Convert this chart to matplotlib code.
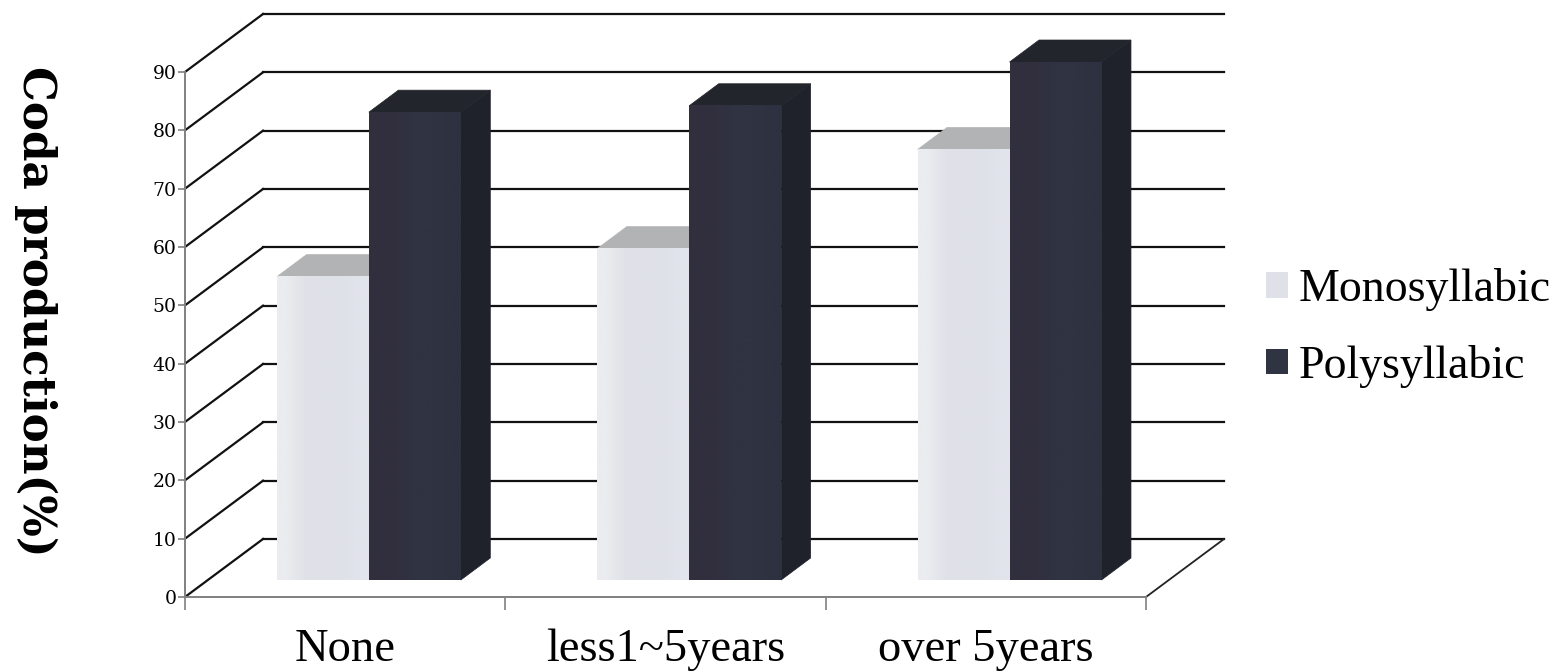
import matplotlib
matplotlib.use("Agg")
import matplotlib.pyplot as plt
import numpy as np
from matplotlib.colors import to_rgb
from matplotlib.patches import Polygon, Patch

categorias = ["None", "less1~5years", "over 5years"]
monosilabico = [52.0, 56.8, 73.8]
polisilabico = [80.2, 81.3, 88.8]
ticks_y = [0, 10, 20, 30, 40, 50, 60, 70, 80, 90]

ANCHO, ALTO = 1562, 672
X0, X1 = 185, 1146
Y0, Y1 = 597, 72

# fondo del grafico: desplazamiento de la pared trasera, en unidades de datos
PX_X = (X1 - X0) / 3
PX_Y = (Y0 - Y1) / 90
PROF_X = 78 / PX_X
PROF_Y = 58 / PX_Y

# barras: frente a 17 px sobre el piso, lado de 29 x 22 px
BARRA_IZQ = 0.287
BARRA_ANCHO = 0.287
BASE = 17 / PX_Y
LADO_X = 29.5 / PX_X
LADO_Y = 22 / PX_Y

COLORES_MONO = {"frente": ["#eaecef", "#e0e2e8", "#dfe1e8", "#dfe1e8", "#e2e4ec"],
                "arriba": "#b2b3b5", "lado": "#d3d5dc"}
COLORES_POLI = {"frente": ["#312f3e", "#31303f", "#2f3342", "#2f3342", "#2d3140"],
                "arriba": "#23252d", "lado": "#20222b"}

fig = plt.figure(figsize=(ANCHO / 100, ALTO / 100), dpi=100)
ax = fig.add_axes([X0 / ANCHO, 1 - Y0 / ALTO, (X1 - X0) / ANCHO, (Y0 - Y1) / ALTO])
ax.patch.set_alpha(0)


def dibujar_barra(x, valor, colores, orden):
    abajo = BASE
    arriba = BASE + valor
    d = x + BARRA_ANCHO
    caras = [
        ("lado", [(d, abajo), (d + LADO_X, abajo + LADO_Y), (d + LADO_X, arriba + LADO_Y), (d, arriba)]),
        ("arriba", [(x, arriba), (x + LADO_X, arriba + LADO_Y), (d + LADO_X, arriba + LADO_Y), (d, arriba)]),
    ]
    for nombre, puntos in caras:
        ax.add_patch(Polygon(puntos, closed=True, facecolor=colores[nombre], edgecolor=colores[nombre],
                             lw=0.5, clip_on=False, zorder=orden))
    # el frente lleva un degradado horizontal suave
    franja = np.array([[to_rgb(c) for c in colores["frente"]]])
    ax.imshow(franja, extent=(x, d, abajo, arriba), aspect="auto", interpolation="bilinear",
              clip_on=False, zorder=orden + 0.5)


# lineas de la pared trasera y de la pared izquierda
for valor in ticks_y:
    ax.plot([PROF_X, 3 + PROF_X], [valor + PROF_Y, valor + PROF_Y], color="#111111", lw=1.6,
            clip_on=False, zorder=1)
    ax.plot([0, PROF_X], [valor, valor + PROF_Y], color="#111111", lw=1.6, clip_on=False, zorder=1)

# borde derecho del piso
ax.plot([3, 3 + PROF_X], [0, PROF_Y], color="#222222", lw=1.3, clip_on=False, zorder=1)

for i in range(len(categorias)):
    x = i + BARRA_IZQ
    dibujar_barra(x, monosilabico[i], COLORES_MONO, 3)
    dibujar_barra(x + BARRA_ANCHO, polisilabico[i], COLORES_POLI, 4)

ax.set_xlim(0, 3)
ax.set_ylim(0, 90)

for lado in ["top", "right"]:
    ax.spines[lado].set_visible(False)
for lado in ["left", "bottom"]:
    ax.spines[lado].set_color("#808080")
    ax.spines[lado].set_linewidth(1.4)
    ax.spines[lado].set_zorder(2)

ax.set_yticks(ticks_y)
ax.set_yticklabels([str(v) for v in ticks_y], family="DejaVu Serif", fontsize=13.5)
ax.tick_params(axis="y", length=5, width=1.2, color="#808080", pad=1)
ax.set_xticks([0, 1, 2, 3])
ax.set_xticklabels([])
ax.tick_params(axis="x", which="major", length=9, width=1.2, color="#808080")
ax.set_xticks([0.5, 1.5, 2.5], minor=True)
ax.set_xticklabels(categorias, minor=True, family="Liberation Serif", fontsize=33.5)
ax.tick_params(axis="x", which="minor", length=0, pad=23)

fig.text(36 / ANCHO, 1 - 311 / ALTO, "Coda production(%)", rotation=-90, ha="center", va="center",
         family="DejaVu Serif", fontweight="bold", fontsize=31.5)

manijas = [Patch(facecolor="#dfe1e8", edgecolor="none"),
           Patch(facecolor="#2f3342", edgecolor="none")]
fig.legend(manijas, ["Monosyllabic", "Polysyllabic"], loc="center left",
           bbox_to_anchor=(1266 / ANCHO, 1 - 328 / ALTO), frameon=False,
           prop={"family": "Liberation Serif", "size": 33}, handlelength=0.48, handleheight=0.48,
           handletextpad=0.24, labelspacing=0.74, borderpad=0, borderaxespad=0)

fig.savefig("out.png", dpi=100, facecolor="white")
plt.close(fig)
